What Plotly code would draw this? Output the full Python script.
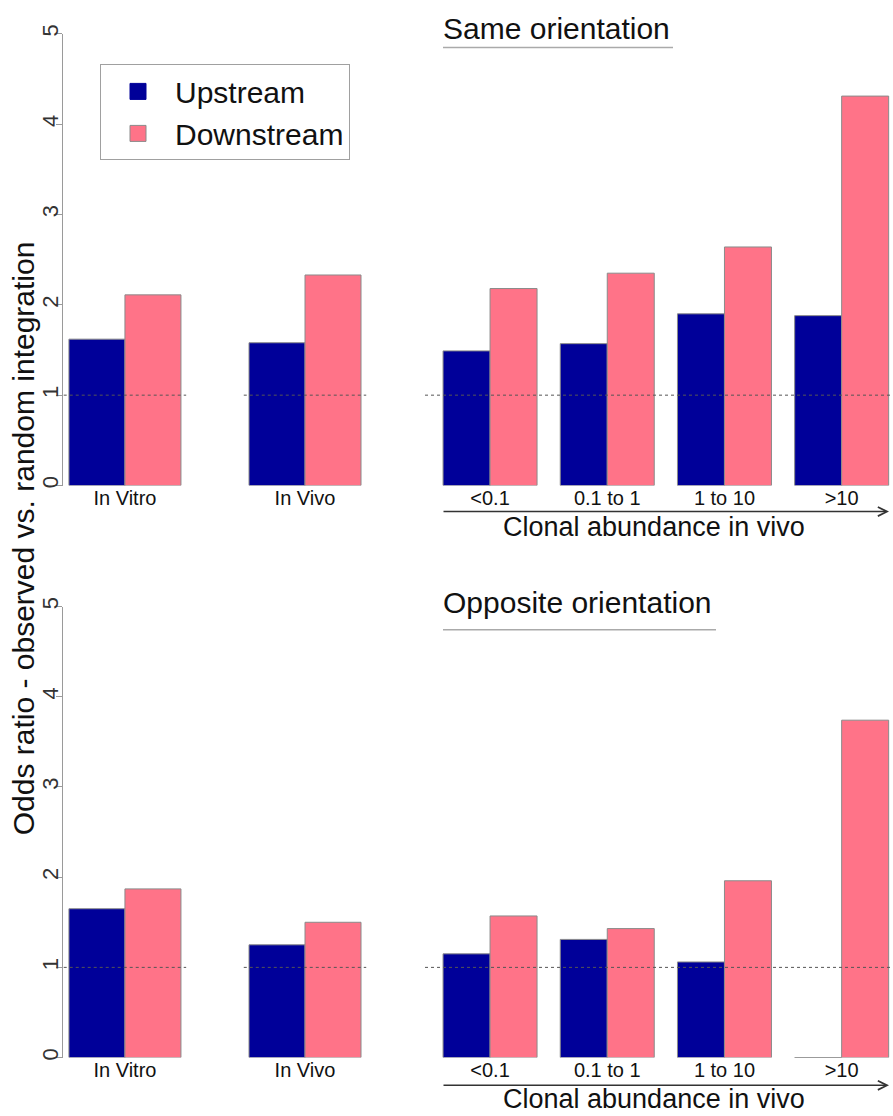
import plotly.graph_objects as go

# ---- data -------------------------------------------------------------
series_names = ["Upstream", "Downstream"]
sample_categories = ["In Vitro", "In Vivo"]
abundance_categories = ["<0.1", "0.1 to 1", "1 to 10", ">10"]

same_up_sample = [1.62, 1.58]
same_down_sample = [2.11, 2.33]
same_up_abund = [1.49, 1.57, 1.90, 1.88]
same_down_abund = [2.18, 2.35, 2.64, 4.31]

opp_up_sample = [1.65, 1.25]
opp_down_sample = [1.87, 1.50]
opp_up_abund = [1.15, 1.31, 1.06, 0.0]
opp_down_abund = [1.57, 1.43, 1.96, 3.74]

y_ticks = [0, 1, 2, 3, 4, 5]
panel_titles = ["Same orientation", "Opposite orientation"]
y_title = "Odds ratio - observed vs. random integration"
x_title = "Clonal abundance in vivo"

# ---- style ------------------------------------------------------------
W, H = 893, 1116
FONT = "Liberation Sans, Arial, sans-serif"
UP_COLOR = "#000099"
DOWN_COLOR = "#FF7388"
EDGE = "#8a8a8a"
AXIS_GREY = "#9a9a9a"

def px_x(p):
    return p / W

def px_y(p):
    return 1 - p / H

# pixel geometry of the panels
left_dom = [px_x(63), px_x(370)]
right_dom = [px_x(425), 1.0]
top_dom = [px_y(481.7), px_y(25)]
bot_dom = [px_y(1060), px_y(604)]

left_range = [-0.344, 1.361]
right_range = [-0.555, 3.438]
w_left = 0.311
w_right = 0.401

fig = go.Figure()

def add_pair(up, down, xa, ya, width):
    xs = list(range(len(up)))
    for vals, name, col, off in ((up, series_names[0], UP_COLOR, -width),
                                 (down, series_names[1], DOWN_COLOR, 0.0)):
        fig.add_trace(go.Bar(
            x=xs, y=vals, width=width, offset=off, name=name,
            marker=dict(color=col, line=dict(color=EDGE, width=1)),
            xaxis=xa, yaxis=ya, showlegend=False))
        # zero-valued bars are shown as a flat segment on the baseline
        for xi, v in zip(xs, vals):
            if v == 0:
                fig.add_trace(go.Scatter(
                    x=[xi + off, xi + off + width], y=[v, v], mode="lines",
                    line=dict(color=EDGE, width=1.2), xaxis=xa, yaxis=ya,
                    showlegend=False, hoverinfo="skip"))

add_pair(same_up_sample, same_down_sample, "x", "y", w_left)
add_pair(same_up_abund, same_down_abund, "x2", "y2", w_right)
add_pair(opp_up_sample, opp_down_sample, "x3", "y3", w_left)
add_pair(opp_up_abund, opp_down_abund, "x4", "y4", w_right)

# legend entries
for name, col in zip(series_names, (UP_COLOR, DOWN_COLOR)):
    fig.add_trace(go.Scatter(
        x=[None], y=[None], mode="markers", name=name,
        marker=dict(symbol="square", size=16, color=col,
                    line=dict(color=EDGE if col == DOWN_COLOR else col, width=1)),
        xaxis="x", yaxis="y", showlegend=True))

def y_axis(dom, anchor, visible):
    d = dict(domain=dom, range=[0, 5], anchor=anchor, showgrid=False,
             zeroline=False, fixedrange=True)
    if visible:
        d.update(tickmode="array", tickvals=y_ticks,
                 ticktext=[str(t) for t in y_ticks],
                 ticks="outside", ticklen=6, tickcolor=AXIS_GREY, tickwidth=1,
                 showline=True, linecolor=AXIS_GREY, linewidth=1,
                 tickangle=-90, ticklabelstandoff=-11,
                 tickfont=dict(family=FONT, size=22, color="#333"))
    else:
        d.update(visible=False)
    return d

def x_axis(dom, rng, cats, anchor):
    return dict(domain=dom, range=rng, anchor=anchor, showgrid=False,
                zeroline=False, showline=False, ticks="",
                tickmode="array", tickvals=list(range(len(cats))), ticktext=cats,
                ticklabelstandoff=-2,
                tickfont=dict(family=FONT, size=20, color="#111"),
                fixedrange=True)

shapes = []
# dotted reference line at odds ratio 1
for xa, ya, n in (("x", "y", len(sample_categories)), ("x3", "y3", len(sample_categories))):
    for i in range(n):
        shapes.append(dict(type="line", xref=xa, yref=ya, x0=i - 0.34, x1=i + 0.34,
                           y0=1, y1=1, line=dict(color="#555", width=1, dash="dot")))
for xa, ya in (("x2", "y2"), ("x4", "y4")):
    shapes.append(dict(type="line", xref=xa + " domain", yref=ya, x0=0, x1=1,
                       y0=1, y1=1, line=dict(color="#555", width=1, dash="dot")))

# title underlines
shapes.append(dict(type="line", xref="paper", yref="paper", x0=px_x(443), x1=px_x(673),
                   y0=px_y(39), y1=px_y(39), line=dict(color="#aaaaaa", width=1.5)))
shapes.append(dict(type="line", xref="paper", yref="paper", x0=px_x(443), x1=px_x(716),
                   y0=px_y(627.5), y1=px_y(627.5), line=dict(color="#aaaaaa", width=1.5)))

annotations = []
annotations.append(dict(text=panel_titles[0], xref="paper", yref="paper",
                        x=px_x(441), y=px_y(20), xanchor="left", yanchor="middle",
                        showarrow=False, font=dict(family=FONT, size=30, color="#111")))
annotations.append(dict(text=panel_titles[1], xref="paper", yref="paper",
                        x=px_x(441), y=px_y(600), xanchor="left", yanchor="middle",
                        showarrow=False, font=dict(family=FONT, size=30, color="#111")))
annotations.append(dict(text=y_title, xref="paper", yref="paper",
                        x=px_x(23), y=px_y(535), xanchor="center", yanchor="middle",
                        textangle=-90, showarrow=False,
                        font=dict(family=FONT, size=30, color="#111")))
for ytxt, yarr in ((524, 508), (1102, 1088)):
    annotations.append(dict(text="", xref="paper", yref="paper",
                            x=px_x(889), y=px_y(yarr), ax=-(889 - 442), ay=0,
                            showarrow=True, arrowhead=5, arrowsize=1.2,
                            arrowwidth=1.5, arrowcolor="#333"))
    annotations.append(dict(text=x_title, xref="paper", yref="paper",
                            x=px_x(654), y=px_y(ytxt), xanchor="center",
                            yanchor="middle", showarrow=False,
                            font=dict(family=FONT, size=27, color="#111")))

fig.update_layout(
    width=W, height=H, margin=dict(l=0, r=0, t=0, b=0),
    paper_bgcolor="white", plot_bgcolor="white",
    barmode="overlay",
    font=dict(family=FONT, color="#111"),
    xaxis=x_axis(left_dom, left_range, sample_categories, "y"),
    xaxis2=x_axis(right_dom, right_range, abundance_categories, "y2"),
    xaxis3=x_axis(left_dom, left_range, sample_categories, "y3"),
    xaxis4=x_axis(right_dom, right_range, abundance_categories, "y4"),
    yaxis=y_axis(top_dom, "x", True),
    yaxis2=y_axis(top_dom, "x2", False),
    yaxis3=y_axis(bot_dom, "x3", True),
    yaxis4=y_axis(bot_dom, "x4", False),
    shapes=shapes,
    annotations=annotations,
    legend=dict(x=px_x(100), y=px_y(56), xanchor="left", yanchor="top",
                bgcolor="white", bordercolor="#a0a0a0", borderwidth=1,
                font=dict(family=FONT, size=30, color="#111"),
                itemwidth=64, tracegroupgap=0),
    showlegend=True,
)

fig.write_html("out.html")
